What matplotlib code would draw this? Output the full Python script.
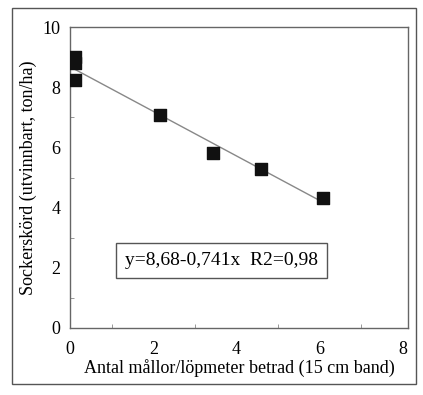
import numpy as np
import matplotlib.pyplot as plt
from matplotlib.patches import Rectangle

# data
antal = [0.12, 0.12, 0.12, 2.16, 3.43, 4.6, 6.07]
skord = [8.25, 8.8, 9.0, 7.08, 5.83, 5.27, 4.33]
intercept, slope = 8.68, -0.741
xticks = [0, 2, 4, 6, 8]
yticks = [0, 2, 4, 6, 8, 10]

plt.rcParams['font.family'] = ['Liberation Serif', 'DejaVu Serif']

fig = plt.figure(figsize=(4.23, 3.95), dpi=100)
fig.patch.set_facecolor('white')

# outer frame around the whole figure
fig.add_artist(Rectangle((12 / 423, 1 - 384 / 395), 404 / 423, 376 / 395,
                         transform=fig.transFigure, fill=False,
                         edgecolor='#555555', linewidth=1.0))

ax = fig.add_axes([70 / 423, 1 - 328 / 395, 338 / 423, 301 / 395])

# regression line
xl = np.array([min(antal), max(antal)])
ax.plot(xl, intercept + slope * xl, color='#888888', linewidth=1.0, zorder=2)
ax.scatter(antal, skord, marker='s', s=70, color='#111111', zorder=3)

ax.set_xlim(0, 8.12)
ax.set_ylim(0, 10)
ax.set_xticks(xticks)
ax.set_yticks(yticks)
ax.set_xticks([1, 3, 5, 7], minor=True)
ax.set_yticks([1, 3, 5, 7, 9], minor=True)
ax.tick_params(which='major', direction='in', length=0, labelsize=13)
ax.tick_params(axis='x', which='major', pad=9)
ax.tick_params(axis='y', which='major', pad=7)
ax.tick_params(which='minor', direction='in', length=3, color='#888888')
for s in ax.spines.values():
    s.set_color('#666666')
    s.set_linewidth(1.0)

ax.set_xlabel('Antal mållor/löpmeter betrad (15 cm band)', fontsize=13, labelpad=1)
ax.set_ylabel('Sockerskörd (utvinnbart, ton/ha)', fontsize=13, labelpad=4)

ax.text(1.32, 2.25, 'y=8,68-0,741x  R2=0,98', fontsize=14, va='center', ha='left',
        bbox=dict(boxstyle='square,pad=0.45', facecolor='white', edgecolor='#555555'))

fig.savefig('out.png', dpi=100)
